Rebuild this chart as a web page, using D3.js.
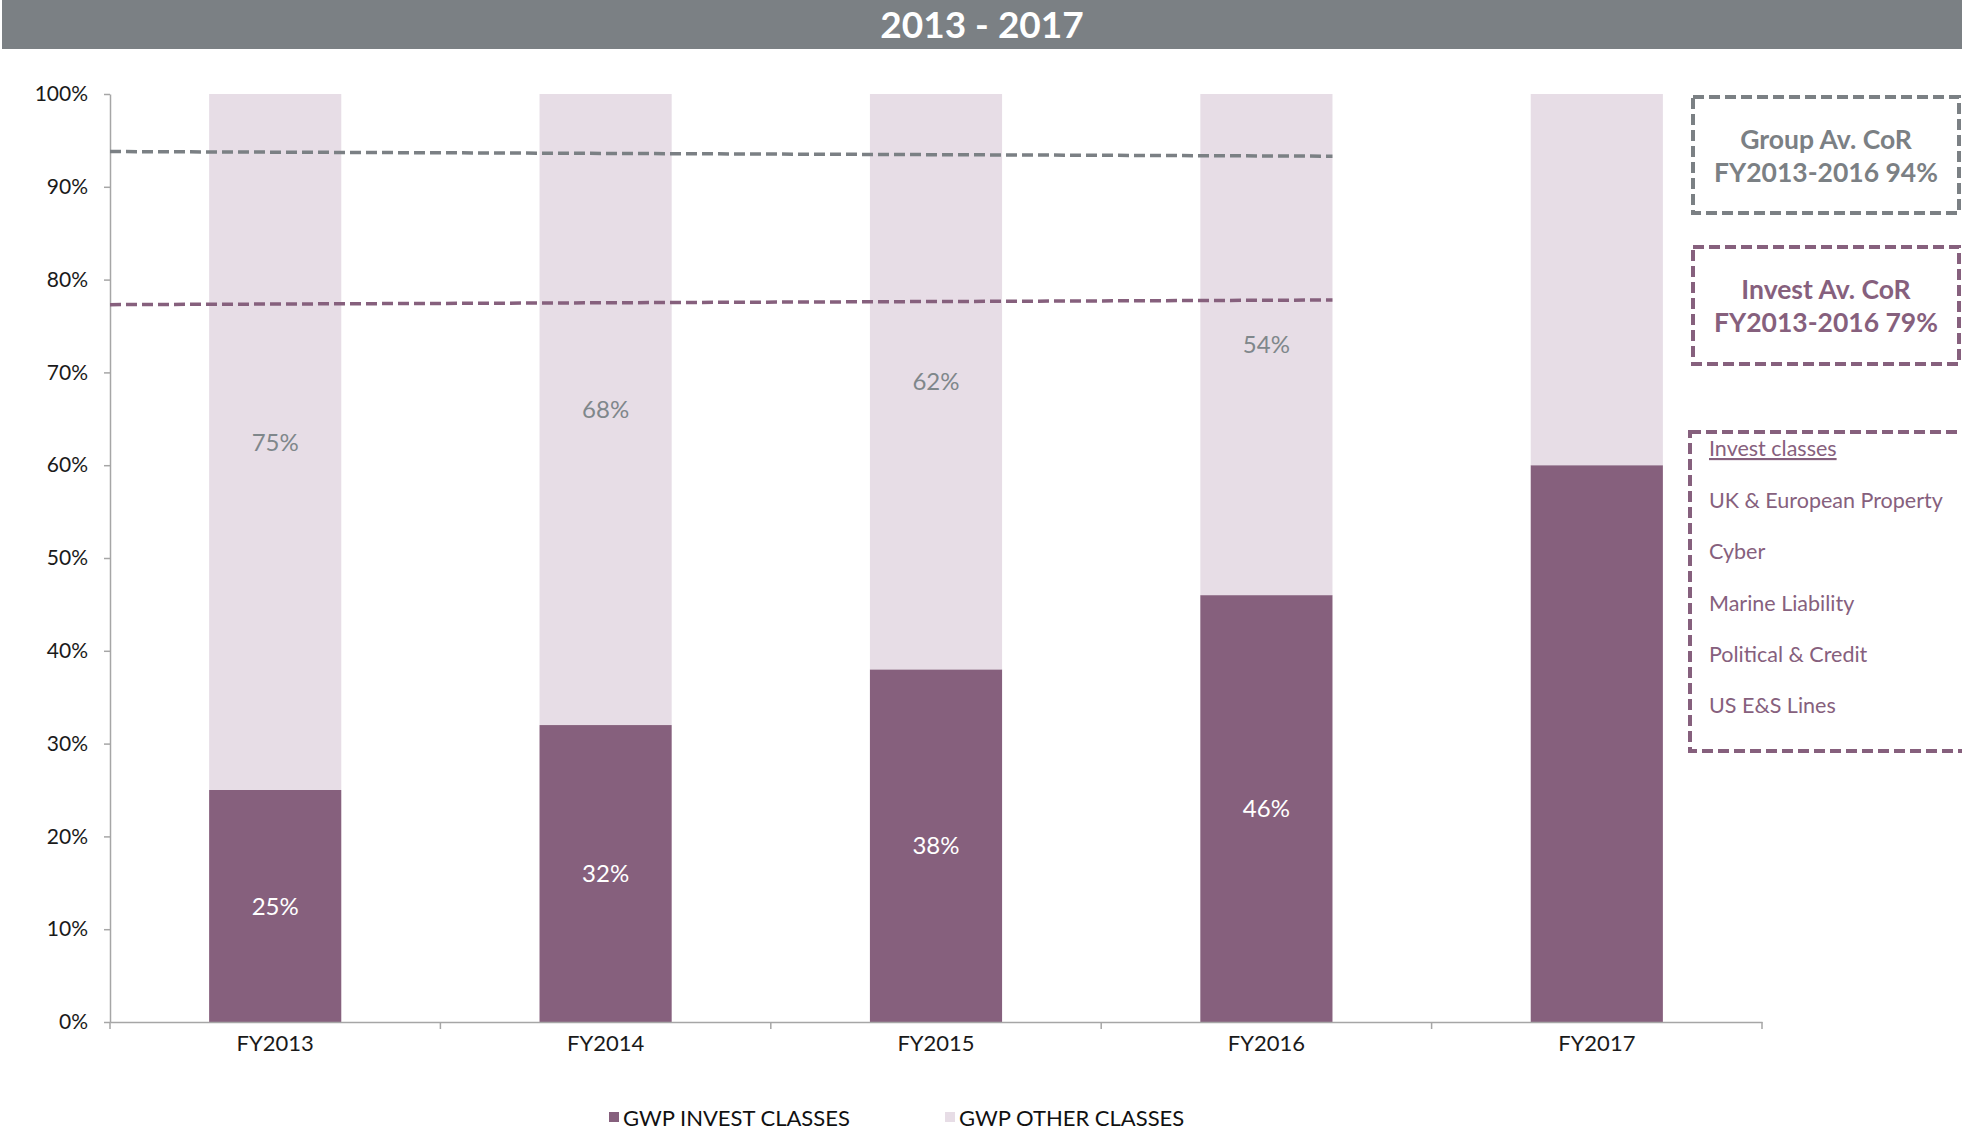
<!DOCTYPE html>
<html>
<head>
<meta charset="utf-8">
<script src="https://cdn.jsdelivr.net/npm/d3@7"></script>
<style>
  html, body { margin: 0; padding: 0; background: #ffffff; }
  svg { display: block; font-family: Lato, "Open Sans", sans-serif; }
</style>
</head>
<body>
<svg id="chart" width="1962" height="1135"></svg>
<script>
// Share of gross written premium by year (percent of total)
const categories = ["FY2013", "FY2014", "FY2015", "FY2016", "FY2017"];
const investShare = [25, 32, 38, 46, 60];
const otherShare = [75, 68, 62, 54, 40];
const showLabels = [true, true, true, true, false];
const yTicks = [0, 10, 20, 30, 40, 50, 60, 70, 80, 90, 100];

// Average combined ratio reference lines (start and end value, FY2013 to FY2016)
const groupAvgLine = [93.8, 93.3];
const investAvgLine = [77.3, 77.8];

const titleText = "2013 - 2017";
const groupBoxLines = ["Group Av. CoR", "FY2013-2016 94%"];
const investBoxLines = ["Invest Av. CoR", "FY2013-2016 79%"];
const investClassesHeader = "Invest classes";
const investClasses = ["UK & European Property", "Cyber", "Marine Liability", "Political & Credit", "US E&S Lines"];
const seriesNames = ["GWP INVEST CLASSES", "GWP OTHER CLASSES"];

const colInvest = "#86607d";
const colOther = "#e7dde6";
const colGray = "#7b8084";
const colAxis = "#a6a6a6";

const svg = d3.select("#chart");

// Title banner
svg.append("rect").attr("x", 2).attr("y", 0).attr("width", 1960).attr("height", 49).attr("fill", colGray);
svg.append("text").attr("x", 982).attr("y", 38).attr("text-anchor", "middle")
  .attr("fill", "#ffffff").attr("font-size", 37).attr("font-weight", 700).text(titleText);

const x = d3.scaleBand().domain(categories).range([110, 1762]).paddingInner(0.6).paddingOuter(0.3);
const y = d3.scaleLinear().domain([0, 100]).range([1022, 94]);

// Stacked bars
const rows = categories.map((c, i) => ({ cat: c, invest: investShare[i], other: otherShare[i], label: showLabels[i] }));
const stack = d3.stack().keys(["invest", "other"])(rows);
const colors = { invest: colInvest, other: colOther };

const gBars = svg.append("g");
stack.forEach(layer => {
  gBars.selectAll(null).data(layer).enter().append("rect")
    .attr("x", d => x(d.data.cat))
    .attr("width", x.bandwidth())
    .attr("y", d => y(d[1]))
    .attr("height", d => y(d[0]) - y(d[1]))
    .attr("fill", colors[layer.key]);
});

// Y axis
const yAxis = d3.axisLeft(y).tickValues(yTicks).tickFormat(d => d + "%").tickSize(6).tickPadding(16).tickSizeOuter(0);
const gy = svg.append("g").attr("transform", "translate(110,0)").call(yAxis);
gy.select(".domain").attr("stroke", colAxis).attr("stroke-width", 1.5);
gy.selectAll(".tick line").attr("stroke", colAxis).attr("stroke-width", 1.5);
gy.selectAll(".tick text").attr("font-size", 21).attr("fill", "#1a1a1a").attr("font-family", "Lato, sans-serif");

// X axis with category-boundary ticks
const xAxis = d3.axisBottom(x).tickSize(0).tickPadding(13).tickSizeOuter(0);
const gx = svg.append("g").attr("transform", "translate(0,1022)").call(xAxis);
gx.select(".domain").attr("stroke", colAxis).attr("stroke-width", 1.5);
gx.selectAll(".tick text").attr("font-size", 22).attr("fill", "#1a1a1a").attr("font-family", "Lato, sans-serif");
const half = (x.step() - x.bandwidth()) / 2;
const bounds = categories.map(c => x(c) - half).concat([x(categories[categories.length - 1]) + x.bandwidth() + half]);
gx.selectAll(".bound").data(bounds).enter().append("line")
  .attr("x1", d => d).attr("x2", d => d).attr("y1", 0).attr("y2", 7)
  .attr("stroke", colAxis).attr("stroke-width", 1.5);

// Value labels
const gLab = svg.append("g").attr("font-size", 24).attr("text-anchor", "middle");
stack.forEach(layer => {
  gLab.selectAll(null).data(layer.filter(d => d.data.label)).enter().append("text")
    .attr("x", d => x(d.data.cat) + x.bandwidth() / 2)
    .attr("y", d => (y(d[0]) + y(d[1])) / 2)
    .attr("dy", "0.36em")
    .attr("fill", layer.key === "invest" ? "#ffffff" : "#7f878b")
    .text(d => (d[1] - d[0]) + "%");
});

// Average CoR dashed lines, from the axis to the right edge of the FY2016 bar
const lineX = d3.scaleLinear().domain([0, 1]).range([110, x("FY2016") + x.bandwidth()]);
const lineGen = d3.line().x((d, i) => lineX(i)).y(d => y(d));
svg.append("path").datum(groupAvgLine).attr("d", lineGen).attr("fill", "none")
  .attr("stroke", colGray).attr("stroke-width", 3.5).attr("stroke-dasharray", "11,5");
svg.append("path").datum(investAvgLine).attr("d", lineGen).attr("fill", "none")
  .attr("stroke", colInvest).attr("stroke-width", 3.5).attr("stroke-dasharray", "11,5");

// Annotation boxes
function dashedBox(x0, y0, w, h, color) {
  svg.append("rect").attr("x", x0).attr("y", y0).attr("width", w).attr("height", h)
    .attr("fill", "none").attr("stroke", color).attr("stroke-width", 4).attr("stroke-dasharray", "11,5");
}
dashedBox(1693, 97, 266, 116, colGray);
dashedBox(1693, 247, 266, 117, colInvest);
dashedBox(1690, 432, 300, 319, colInvest);

function boxText(lines, cx, y0, color) {
  svg.append("g").selectAll(null).data(lines).enter().append("text")
    .attr("x", cx).attr("y", (d, i) => y0 + i * 33)
    .attr("text-anchor", "middle").attr("font-size", 26.5).attr("font-weight", 700)
    .attr("fill", color).text(d => d);
}
boxText(groupBoxLines, 1826, 149, colGray);
boxText(investBoxLines, 1826, 299, colInvest);

svg.append("text").attr("x", 1709).attr("y", 456).attr("font-size", 21.5).attr("fill", colInvest)
  .attr("text-decoration", "underline").text(investClassesHeader);
svg.append("g").selectAll(null).data(investClasses).enter().append("text")
  .attr("x", 1709).attr("y", (d, i) => 508 + i * 51.3)
  .attr("font-size", 21.5).attr("fill", colInvest).text(d => d);

// Legend
const legendX = [609, 945];
const legendCols = [colInvest, colOther];
const gLeg = svg.append("g");
seriesNames.forEach((name, i) => {
  gLeg.append("rect").attr("x", legendX[i]).attr("y", 1112).attr("width", 10).attr("height", 10).attr("fill", legendCols[i]);
  gLeg.append("text").attr("x", legendX[i] + 14).attr("y", 1118).attr("dy", "0.36em")
    .attr("font-size", 22).attr("fill", "#111111").text(name);
});
</script>
</body>
</html>
